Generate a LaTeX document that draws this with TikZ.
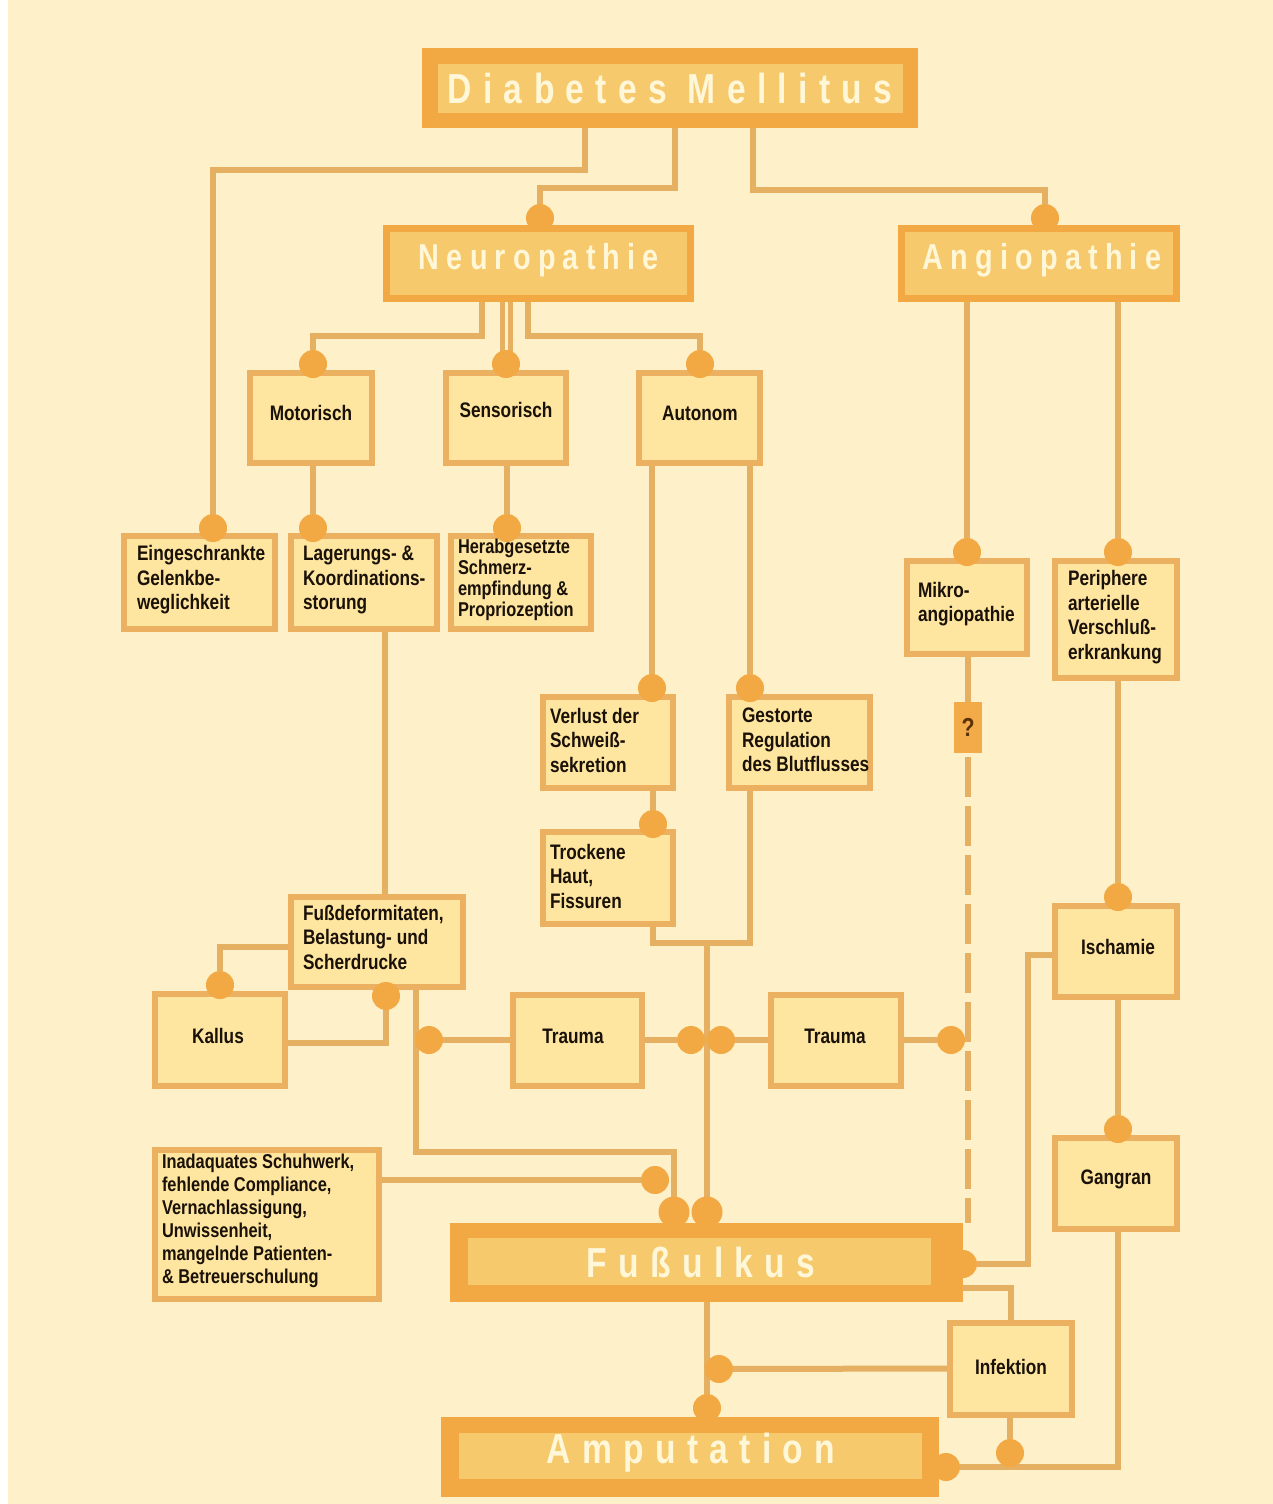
\documentclass[tikz,border=0pt]{standalone}
\usepackage{fontspec}
\newfontfamily\boxfont{Liberation Sans}[FakeStretch=0.82]
\newfontfamily\bigfont{Liberation Sans}[FakeStretch=0.8,LetterSpace=27]
\newfontfamily\midfont{Liberation Sans}[FakeStretch=0.8,LetterSpace=20]
\definecolor{bg}{HTML}{FEF0C8}
\definecolor{lnc}{HTML}{E6B062}
\definecolor{dotc}{HTML}{F2A843}
\definecolor{bord}{HTML}{EBB060}
\definecolor{boxf}{HTML}{FEE5A0}
\definecolor{bigout}{HTML}{F2A943}
\definecolor{bigin}{HTML}{F6C96C}
\definecolor{ttlc}{HTML}{FFF7D8}
\definecolor{txt}{HTML}{1A1208}
\definecolor{qfill}{HTML}{F3AA48}
\definecolor{qtxt}{HTML}{5A3008}
\pgfdeclarelayer{bgl}
\pgfdeclarelayer{lines}
\pgfsetlayers{bgl,lines,main}
\begin{document}
\begin{tikzpicture}[x=1pt,y=-1pt,
 conn/.style={draw=lnc,line width=6pt},
 sbox/.style={rectangle,draw=bord,fill=boxf,line width=6pt,inner sep=0pt,outer sep=0pt},
 mbox/.style={rectangle,draw=bigout,fill=bigin,line width=7pt,inner sep=0pt,outer sep=0pt},
 bbox/.style={rectangle,fill=bigout,inner sep=0pt,outer sep=0pt},
 ibox/.style={rectangle,fill=bigin,inner sep=0pt,outer sep=0pt},
 lbl/.style={inner sep=0pt,outer sep=0pt,align=left,text=txt,font=\boxfont\bfseries\fontsize{21pt}{24.5pt}\selectfont},
 clbl/.style={lbl,align=center},
 ttl/.style={inner sep=0pt,text=ttlc,font=\bigfont\bfseries\fontsize{42pt}{48pt}\selectfont},
 mttl/.style={inner sep=0pt,text=ttlc,font=\midfont\bfseries\fontsize{36pt}{40pt}\selectfont},
 dotn/.style={circle,fill=dotc,minimum size=28pt,inner sep=0pt,outer sep=0pt}]

\useasboundingbox (0,0) rectangle (1273,1504);
\begin{pgfonlayer}{bgl}
\fill[white] (0,0) rectangle (1273,1504);
\fill[bg] (8,0) rectangle (1273,1504);
\end{pgfonlayer}

% ---- big boxes
\node[bbox,minimum width=496pt,minimum height=80pt] (dm) at (670,88) {};
\node[ibox,minimum width=465pt,minimum height=49pt] (dmi) at (670.5,88.5) {};
\node[ttl] (dmt) at (670,88) {Diabetes Mellitus};

\node[mbox,minimum width=304pt,minimum height=70pt] (np) at (538.5,263.5) {};
\node[mttl] (npt) at (539,260) {Neuropathie};
\node[mbox,minimum width=275pt,minimum height=70pt] (ap) at (1039,263.5) {};
\node[mttl] (apt) at (1042,260) {Angiopathie};

\node[bbox,minimum width=513pt,minimum height=79pt] (fu) at (706.5,1262.5) {};
\node[ibox,minimum width=463pt,minimum height=47pt] (fui) at (699.5,1261.5) {};
\node[ttl] (fut) at (701,1262) {Fußulkus};

\node[bbox,minimum width=498pt,minimum height=80pt] (am) at (690,1457) {};
\node[ibox,minimum width=463pt,minimum height=46pt] (ami) at (690.5,1456) {};
\node[ttl] (amt) at (691,1453) {Amputation};

% ---- small boxes
\node[sbox,minimum width=122pt,minimum height=90pt] (mo) at (311,418) {};
\node[clbl] (mot) at (311,413) {Motorisch};
\node[sbox,minimum width=120pt,minimum height=90pt] (se) at (506,418) {};
\node[clbl] (set) at (506,410) {Sensorisch};
\node[sbox,minimum width=121pt,minimum height=90pt] (au) at (699.5,418) {};
\node[clbl] (aut) at (700,413) {Autonom};

\node[sbox,minimum width=151pt,minimum height=93pt] (ei) at (199.5,582.5) {};
\node[lbl,anchor=west] (eit) at (137,580) {Eingeschrankte\\Gelenkbe-\\weglichkeit};
\node[sbox,minimum width=146pt,minimum height=93pt] (la) at (364,582.5) {};
\node[lbl,anchor=west] (lat) at (303,580) {Lagerungs- \&\\Koordinations-\\storung};
\node[sbox,minimum width=140pt,minimum height=93pt] (he) at (521,582.5) {};
\node[lbl,anchor=west,font=\boxfont\bfseries\fontsize{20pt}{21pt}\selectfont] (het) at (458,580) {Herabgesetzte\\Schmerz-\\empfindung \&\\Propriozeption};

\node[sbox,minimum width=130pt,minimum height=91pt] (ve) at (608,742.5) {};
\node[lbl,anchor=west] (vet) at (550,740) {Verlust der\\Schweiß-\\sekretion};
\node[sbox,minimum width=141pt,minimum height=91pt] (ge) at (799.5,742.5) {};
\node[lbl,anchor=west] (get) at (742,740) {Gestorte\\Regulation\\des Blutflusses};
\node[sbox,minimum width=130pt,minimum height=92pt] (tr) at (608,878) {};
\node[lbl,anchor=west] (trt) at (550,876) {Trockene\\Haut,\\Fissuren};

\node[sbox,minimum width=120pt,minimum height=93pt] (mi) at (967,607.5) {};
\node[lbl,anchor=west] (mit) at (918,604) {Mikro-\\angiopathie};
\node[sbox,minimum width=122pt,minimum height=117pt] (pe) at (1116,619.5) {};
\node[lbl,anchor=west] (pet) at (1068,617) {Periphere\\arterielle\\Verschluß-\\erkrankung};
\node[rectangle,fill=qfill,minimum width=28pt,minimum height=51pt,inner sep=0pt] (q) at (968,727.5) {};
\node[inner sep=0pt,text=qtxt,font=\boxfont\bfseries\fontsize{26pt}{28pt}\selectfont] (qt) at (968,727) {?};

\node[sbox,minimum width=172pt,minimum height=90pt] (fd) at (377,942) {};
\node[lbl,anchor=west] (fdt) at (303,937) {Fußdeformitaten,\\Belastung- und\\Scherdrucke};
\node[sbox,minimum width=130pt,minimum height=92pt] (ka) at (220,1040) {};
\node[clbl] (kat) at (218,1036) {Kallus};
\node[sbox,minimum width=129pt,minimum height=91pt] (t1) at (577.5,1040) {};
\node[clbl] (t1t) at (573,1036) {Trauma};
\node[sbox,minimum width=130pt,minimum height=91pt] (t2) at (836,1040) {};
\node[clbl] (t2t) at (835,1036) {Trauma};

\node[sbox,minimum width=122pt,minimum height=91pt] (is) at (1116,951.5) {};
\node[clbl] (ist) at (1118,947) {Ischamie};
\node[sbox,minimum width=122pt,minimum height=91pt] (ga) at (1116,1183.5) {};
\node[clbl] (gat) at (1116,1179) {Gangran};

\node[sbox,minimum width=224pt,minimum height=149pt] (in) at (267,1224.5) {};
\node[lbl,anchor=west,font=\boxfont\bfseries\fontsize{20pt}{23pt}\selectfont] (int) at (162,1221) {Inadaquates Schuhwerk,\\fehlende Compliance,\\Vernachlassigung,\\Unwissenheit,\\mangelnde Patienten-\\\& Betreuerschulung};
\node[sbox,minimum width=122pt,minimum height=92pt] (if) at (1011,1368.5) {};
\node[clbl] (ift) at (1011,1367) {Infektion};

% ---- dots
\node[dotn] (dei) at (213,528) {};
\node[dotn] (dnp) at (540,218) {};
\node[dotn] (dap) at (1045,218) {};
\node[dotn] (dmo) at (313,364) {};
\node[dotn] (dse) at (506,364) {};
\node[dotn] (dau) at (700,364) {};
\node[dotn] (dla) at (313,528) {};
\node[dotn] (dhe) at (507,528) {};
\node[dotn] (dve) at (652,688) {};
\node[dotn] (dge) at (750,688) {};
\node[dotn] (dtr) at (653,824) {};
\node[dotn,minimum size=31pt] (dfa) at (674,1212) {};
\node[dotn,minimum size=31pt] (dfb) at (707,1212) {};
\node[dotn] (dka) at (220,985) {};
\node[dotn] (dfd) at (386,996) {};
\node[dotn] (dta) at (429,1040) {};
\node[dotn] (dtb) at (691,1040) {};
\node[dotn] (dtc) at (721,1040) {};
\node[dotn] (dtd) at (951,1040) {};
\node[dotn] (din) at (655,1180) {};
\node[dotn] (dmi) at (967,552) {};
\node[dotn] (dpe) at (1118,552) {};
\node[dotn] (dis) at (1118,897) {};
\node[dotn] (dga) at (1118,1129) {};
\node[dotn] (dfr) at (963,1264) {};
\node[dotn] (dar) at (946,1467) {};
\node[dotn] (dif) at (719,1369) {};
\node[dotn] (dat) at (707,1408) {};
\node[dotn] (dib) at (1010,1453) {};

% ---- connectors
\begin{pgfonlayer}{lines}
\coordinate (j1) at (707,943);
\draw[conn] ([xshift=-85pt]dm.south) -- ++(0,42) -| (dei);
\draw[conn] ([xshift=5pt]dm.south) -- ++(0,60) -| (dnp);
\draw[conn] ([xshift=83pt]dm.south) -- ++(0,62) -| (dap);
\draw[conn] ([xshift=-56.5pt]np.south) -- ++(0,37.5) -| (dmo);
\draw[conn,line width=5pt] ([xshift=-36pt]np.south) -- ([xshift=-3.5pt]dse.center);
\draw[conn,line width=5pt] ([xshift=-28pt]np.south) -- ([xshift=4.5pt]dse.center);
\draw[conn] ([xshift=-10.5pt]np.south) -- ++(0,37.5) -| (dau);
\draw[conn] (mo.south -| dla) -- (dla);
\draw[conn] (se.south -| dhe) -- (dhe);
\draw[conn] (au.south -| dve) -- (dve);
\draw[conn] (au.south -| dge) -- (dge);
\draw[conn] (ve.south -| dtr) -- (dtr);
\draw[conn] (tr.south -| dtr) -- ++(0,19) -| (ge.south -| dge);
\draw[conn] (j1) -- (dfb);
\draw[conn] ([xshift=8pt]la.south -| fd.north) -- ([xshift=8pt]fd.north);
\draw[conn] ([yshift=-5pt]fd.west) -| (dka);
\draw[conn] ([yshift=-3pt]ka.east) -| (dfd);
\draw[conn] ([xshift=39pt]fd.south) -- ++(0,165) -| (dfa);
\draw[conn] (t1.west) -- (dta);
\draw[conn] (t1.east) -- (dtb);
\draw[conn] (t2.west) -- (dtc);
\draw[conn] (t2.east) -- (dtd);
\draw[conn] (in.east |- din) -- (din);
\draw[conn] (ap.south -| dmi) -- (dmi);
\draw[conn] (ap.south -| dpe) -- (dpe);
\draw[conn] (mi.south -| q.north) -- (q.north);
\draw[conn,dash pattern=on 40pt off 9pt] ([yshift=-4pt]q.south) -- (q.south |- fu.north);
\draw[conn] (pe.south -| dis) -- (dis);
\draw[conn] ([yshift=-3.5pt]is.west) -- ++(-27,0) |- (dfr);
\draw[conn] (is.south -| dga) -- (dga);
\draw[conn] (ga.south -| dga) |- (dar);
\draw[conn] ([yshift=-25.5pt]fu.east) -| (if.north);
\draw[conn] (if.west) -- (dif);
\draw[conn] (fu.south -| dat) -- (dat);
\draw[conn] (if.south -| dib) -- (dib);
\end{pgfonlayer}
\end{tikzpicture}
\end{document}
